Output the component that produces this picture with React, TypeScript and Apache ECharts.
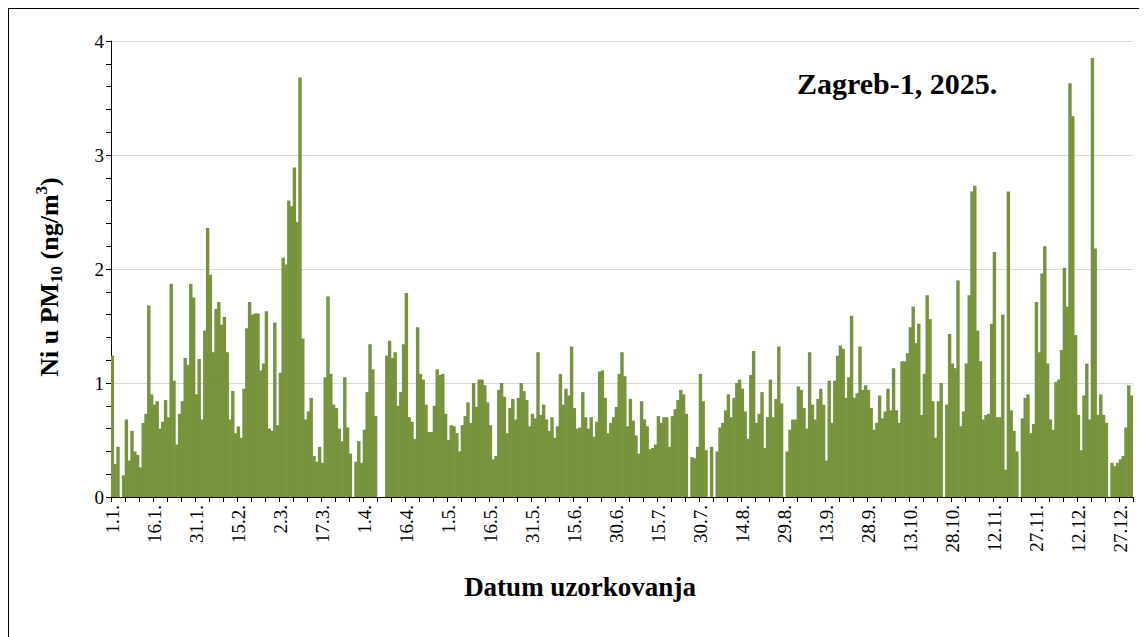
import React, { useEffect, useRef } from "react";
import * as echarts from "echarts";

// ---- data (Ni in PM10, ng/m3, daily, Zagreb-1 2025); null = no sample ----
const YEAR = 2025;
const titleText = "Zagreb-1, 2025.";
const xAxisTitle = "Datum uzorkovanja";
const yTicks = [0, 1, 2, 3, 4];

const d000_029 = [1.24, 0.29, 0.44, null, 0.19, 0.68, 0.32, 0.58, 0.40, 0.37, 0.26, 0.65, 0.73, 1.68, 0.90, 0.81, 0.84, 0.60, 0.66, 0.85, 0.70, 1.87, 1.02, 0.46, 0.73, 0.84, 1.22, 1.16, 1.87, 1.75];
const d030_059 = [0.90, 1.21, 0.68, 1.46, 2.36, 1.95, 1.27, 1.65, 1.71, 1.51, 1.58, 1.27, 0.68, 0.93, 0.56, 0.62, 0.52, 0.95, 1.48, 1.71, 1.60, 1.61, 1.61, 1.11, 1.17, 1.63, 0.60, 0.58, 1.53, 0.63];
const d060_089 = [1.09, 2.10, 2.04, 2.60, 2.55, 2.89, 2.41, 3.68, 1.39, 0.68, 0.75, 0.87, 0.36, 0.31, 0.44, 0.30, 1.05, 1.76, 1.08, 0.81, 0.78, 0.60, 0.49, 1.05, 0.61, 0.38, null, 0.31, 0.49, 0.30];
const d090_120 = [0.59, 0.92, 1.34, 1.12, 0.71, null, null, null, 1.24, 1.37, 1.22, 1.27, 0.80, 0.92, 1.34, 1.79, 0.70, 0.66, 0.51, 1.49, 1.08, 1.03, 0.81, 0.57, 0.57, 0.80, 1.12, 1.07, 1.08, 0.73, 0.50];
const d121_151 = [0.63, 0.62, 0.56, 0.40, 0.63, 0.71, 0.83, 0.65, 1.00, 0.79, 1.03, 1.03, 0.98, 0.83, 0.63, 0.33, 0.36, 0.94, 1.00, 0.88, 0.56, 0.78, 0.86, 0.68, 0.87, 1.00, 0.93, 0.85, 0.62, 0.73, 0.69];
const d152_183 = [1.27, 0.72, 0.81, 0.68, 0.58, 0.70, 0.52, 0.62, 1.08, 0.81, 0.95, 0.89, 1.32, 0.78, 0.60, 0.61, 0.92, 0.70, 0.60, 0.70, 0.53, 0.66, 1.10, 1.11, 0.87, 0.56, 0.65, 0.70, 0.79, 1.08, 1.27, 1.06];
const d184_212 = [0.62, 0.86, 0.67, 0.54, 0.38, 0.84, 0.68, 0.62, 0.42, 0.43, 0.46, 0.71, 0.65, 0.70, 0.70, 0.44, 0.71, 0.77, 0.85, 0.94, 0.90, 0.73, null, 0.35, 0.34, 0.44, 1.08, 0.84, 0.41];
const d213_243 = [null, 0.44, null, 0.40, 0.61, 0.65, 0.76, 0.90, 0.70, 0.87, 1.00, 1.03, 0.95, 0.75, 0.51, 1.07, 1.28, 0.65, 0.73, 0.92, 0.43, 0.70, 1.03, 0.70, 0.86, 1.32, 0.82, null, 0.40, 0.59, 0.68];
const d244_274 = [0.68, 0.97, 0.94, 0.78, 0.60, 1.27, 0.81, 0.68, 0.86, 0.95, 0.81, 0.32, 1.02, 0.65, 1.02, 1.24, 1.33, 1.30, 0.87, 1.05, 1.59, 0.87, 0.91, 1.32, 0.94, 0.98, 0.94, 0.78, 0.59, 0.65, 0.89];
const d275_305 = [0.69, 0.75, 0.95, 0.76, 1.13, 0.76, 0.65, 1.19, 1.19, 1.26, 1.49, 1.67, 1.35, 1.52, 0.72, 1.08, 1.77, 1.56, 0.84, 0.52, 0.84, 1.00, null, 0.81, 1.43, 1.17, 1.13, 1.90, 0.62, 0.75, 1.17];
const d306_335 = [1.77, 2.68, 2.73, 1.46, 1.19, 0.68, 0.72, 0.73, 1.52, 2.15, 0.70, 0.70, 1.60, 0.24, 2.68, 0.76, 0.58, 0.40, null, 0.69, 0.87, 0.90, 0.56, 0.64, 1.71, 1.27, 1.96, 2.20, 1.17, 0.68];
const d336_364 = [0.59, 1.01, 1.03, 1.29, 2.01, 1.67, 3.63, 3.34, 1.42, 0.72, 0.41, 0.89, 1.17, 0.68, 3.85, 2.18, 0.72, 0.90, 0.72, 0.65, null, 0.30, 0.27, 0.30, 0.33, 0.36, 0.61, 0.98, 0.89];

const values: (number | null)[] = [
  ...d000_029, ...d030_059, ...d060_089, ...d090_120, ...d121_151, ...d152_183,
  ...d184_212, ...d213_243, ...d244_274, ...d275_305, ...d306_335, ...d336_364,
];

const dates: string[] = [];
for (let m = 0; m < 12; m++) {
  const dim = new Date(YEAR, m + 1, 0).getDate();
  for (let d = 1; d <= dim; d++) dates.push(`${d}.${m + 1}.`);
}

const SERIF = "'Liberation Serif', 'Times New Roman', serif";
const GREEN = "#77933C";

export default function App() {
  const ref = useRef<HTMLDivElement>(null);
  useEffect(() => {
    if (!ref.current) return;
    const chart = echarts.init(ref.current, undefined, { renderer: "svg" });
    chart.setOption({
      animation: false,
      grid: { left: 102, top: 32, width: 1022, height: 456 },
      xAxis: {
        type: "category",
        data: dates,
        boundaryGap: true,
        axisLine: { lineStyle: { color: "#000", width: 1 } },
        axisTick: { show: true, interval: 4, length: 5, lineStyle: { color: "#000" } },
        axisLabel: {
          interval: 14,
          rotate: 90,
          margin: 8,
          fontFamily: SERIF,
          fontSize: 19,
          color: "#000",
        },
        splitLine: { show: false },
      },
      yAxis: {
        type: "value",
        min: yTicks[0],
        max: yTicks[yTicks.length - 1],
        interval: 1,
        axisLine: { show: true, lineStyle: { color: "#000", width: 1 } },
        axisTick: { show: true, length: 5, lineStyle: { color: "#000" } },
        minorTick: { show: true, splitNumber: 5, length: 5, lineStyle: { color: "#000" } },
        axisLabel: { fontFamily: SERIF, fontSize: 19, color: "#000", margin: 7 },
        splitLine: { show: true, lineStyle: { color: "#d9d9d9", width: 1 } },
      },
      series: [
        {
          type: "bar",
          data: values.map((v) => (v === null ? "-" : v)),
          barWidth: 3.4,
          itemStyle: { color: GREEN },
        },
      ],
      graphic: [
        {
          type: "text",
          x: 788,
          y: 74,
          style: {
            text: titleText,
            font: `bold 30px ${SERIF}`,
            fill: "#000",
            textAlign: "left",
            textVerticalAlign: "middle",
          },
        },
        {
          type: "text",
          x: 571,
          y: 578,
          style: {
            text: xAxisTitle,
            font: `bold 27px ${SERIF}`,
            fill: "#000",
            textAlign: "center",
            textVerticalAlign: "middle",
          },
        },
        {
          type: "text",
          x: 40,
          y: 268,
          rotation: Math.PI / 2,
          style: {
            text: "{a|Ni u PM}{b|10}{a| (ng/m}{c|3}{a|)}",
            fill: "#000",
            textAlign: "center",
            textVerticalAlign: "middle",
            rich: {
              a: { fontFamily: SERIF, fontWeight: "bold", fontSize: 26, lineHeight: 32, fill: "#000" },
              b: { fontFamily: SERIF, fontWeight: "bold", fontSize: 17, lineHeight: 18, verticalAlign: "bottom", fill: "#000" },
              c: { fontFamily: SERIF, fontWeight: "bold", fontSize: 17, lineHeight: 18, verticalAlign: "top", fill: "#000" },
            },
          },
        },
      ],
    });
    return () => chart.dispose();
  }, []);
  return (
    <div style={{ width: 1138, height: 640, border: "1px solid #000", boxSizing: "border-box" }}>
      <div ref={ref} style={{ width: 1136, height: 627 }} />
    </div>
  );
}
